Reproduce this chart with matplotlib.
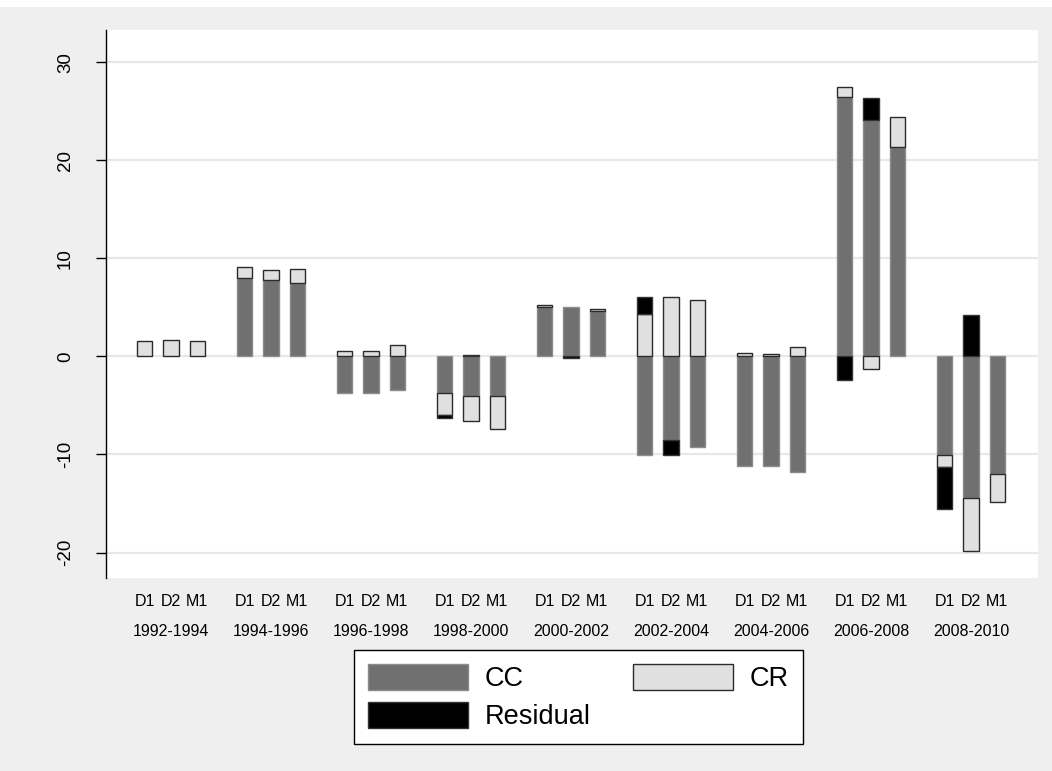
import numpy as np
import matplotlib
matplotlib.use("Agg")
import matplotlib.pyplot as plt
from matplotlib.patches import Patch, Rectangle
from matplotlib.transforms import blended_transform_factory

plt.rcParams["font.family"] = ["Liberation Sans", "DejaVu Sans"]

# Periods and measures
periods = ["1992-1994", "1994-1996", "1996-1998", "1998-2000", "2000-2002",
           "2002-2004", "2004-2006", "2006-2008", "2008-2010"]
measures = ["D1", "D2", "M1"]

# Decomposition components, one row per period, columns D1, D2, M1
cc = [
    [0.0, 0.0, 0.0],
    [7.96, 7.82, 7.45],
    [-3.76, -3.76, -3.42],
    [-3.69, -4.06, -4.06],
    [5.05, 5.02, 4.61],
    [-10.1, -8.5, -9.2],
    [-11.2, -11.17, -11.75],
    [26.45, 24.1, 21.38],
    [-10.1, -14.4, -12.0],
]
cr = [
    [1.56, 1.63, 1.53],
    [1.12, 1.02, 1.46],
    [0.6, 0.6, 1.17],
    [-2.28, -2.52, -3.37],
    [0.21, 0.0, 0.24],
    [4.37, 6.06, 5.79],
    [0.33, 0.27, 0.94],
    [1.05, -1.3, 3.09],
    [-1.2, -5.4, -2.8],
]
residual = [
    [0.0, 0.0, 0.0],
    [0.0, 0.0, 0.0],
    [0.0, 0.0, 0.0],
    [-0.33, 0.15, 0.0],
    [0.0, -0.15, 0.0],
    [1.69, -1.6, 0.0],
    [0.0, 0.0, 0.0],
    [-2.4, 2.25, 0.0],
    [-4.26, 4.2, 0.0],
]

components = [
    ("CC", np.array(cc), "#707070", "#8c8c8c"),
    ("CR", np.array(cr), "#e0e0e0", "#2b2b2b"),
    ("Residual", np.array(residual), "#000000", "#333333"),
]

fig = plt.figure(figsize=(10.52, 7.71), dpi=100, facecolor="#efefef")
fig.add_artist(Rectangle((0, 1 - 7 / 771), 1, 7 / 771, transform=fig.transFigure,
                         facecolor="white", edgecolor="none", zorder=0))

ax = fig.add_axes([106 / 1052, 1 - 578 / 771, (1038 - 106) / 1052, 548 / 771])
ax.set_facecolor("white")

n_groups = len(periods)
offsets = np.array([-0.263, 0.0, 0.263])
width = 0.153
group_x = np.arange(n_groups)
bar_x = group_x[:, None] + offsets[None, :]

pos_base = np.zeros((n_groups, 3))
neg_base = np.zeros((n_groups, 3))
for name, vals, fc, ec in components:
    for g in range(n_groups):
        for m in range(3):
            v = vals[g, m]
            if v == 0:
                continue
            if v > 0:
                base = pos_base[g, m]
                pos_base[g, m] += v
            else:
                base = neg_base[g, m]
                neg_base[g, m] += v
            ax.bar(bar_x[g, m], v, width=width, bottom=base, color=fc,
                   edgecolor=ec, linewidth=1.0, zorder=3)

ax.set_xlim(-0.65, 8.67)
ax.set_ylim(-22.6, 33.3)
ax.set_yticks([-20, -10, 0, 10, 20, 30])
ax.set_yticklabels(["-20", "-10", "0", "10", "20", "30"], rotation=90,
                   va="center", fontsize=13.5)
ax.tick_params(axis="y", length=7, width=1, pad=16, color="black")
ax.grid(axis="y", color="#e8e8e8", linewidth=1.6, zorder=0)
ax.set_axisbelow(True)
ax.set_xticks([])
for s in ["top", "right", "bottom"]:
    ax.spines[s].set_visible(False)
ax.spines["left"].set_linewidth(1.0)

trans = blended_transform_factory(ax.transData, ax.transAxes)
for g in range(n_groups):
    for m in range(3):
        ax.text(bar_x[g, m], -24 / 548, measures[m], transform=trans,
                ha="center", va="center", fontsize=11.5)
    ax.text(group_x[g], -53 / 548, periods[g], transform=trans,
            ha="center", va="center", fontsize=11.5)

# Legend order gives CC, CR on the first row and Residual on the second
legend_order = [0, 2, 1]
handles = [Patch(facecolor=components[i][2], edgecolor=components[i][3],
                 linewidth=1.0, label=components[i][0]) for i in legend_order]
leg = fig.legend(handles=handles, loc="center",
                 bbox_to_anchor=(578.5 / 1052, 1 - 697 / 771), ncol=2,
                 fontsize=19.5, handlelength=3.69, handleheight=1.1,
                 columnspacing=1.55, handletextpad=0.63, labelspacing=0.36,
                 frameon=True, fancybox=False, borderpad=0.5,
                 edgecolor="black", facecolor="white", framealpha=1)
leg.get_frame().set_linewidth(1.0)

fig.savefig("out.png", dpi=100, facecolor=fig.get_facecolor())
